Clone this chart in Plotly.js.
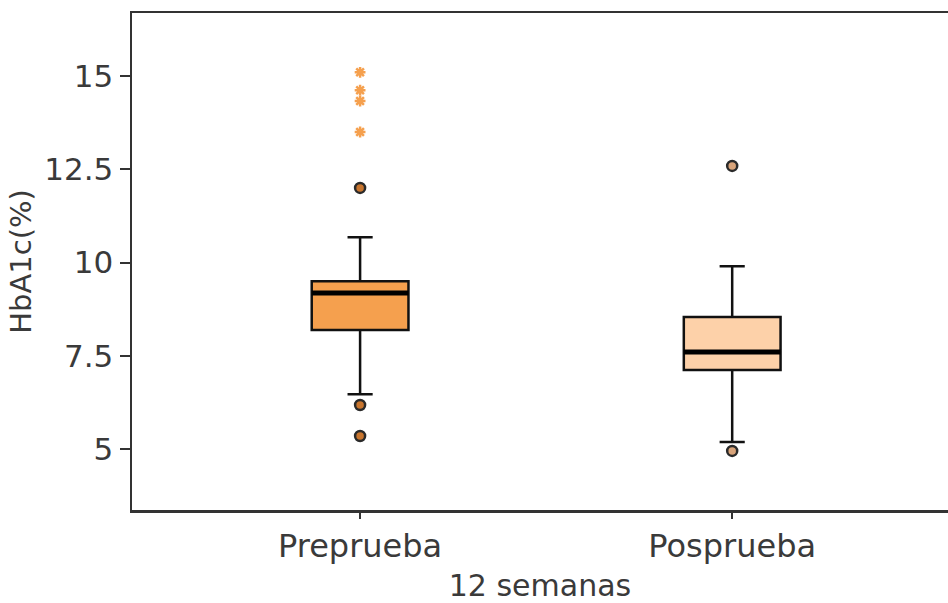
<!DOCTYPE html>
<html>
<head>
<meta charset="utf-8">
<script src="https://cdn.plot.ly/plotly-3.0.1.min.js"></script>
<style>html,body{margin:0;padding:0;background:#fff;}#chart{width:948px;height:603px;}</style>
</head>
<body>
<div id="chart"></div>
<script>
// Data
const categories = ["Preprueba", "Posprueba"];
const xPos = [0, 1];
const q1 = [8.19, 7.12];
const median = [9.18, 7.60];
const q3 = [9.50, 8.54];
const lowerWhisker = [6.47, 5.19];
const upperWhisker = [10.68, 9.90];
const outliersPre = [12.0, 6.18, 5.35];
const extremesPre = [15.1, 14.62, 14.33, 13.5];
const outliersPost = [12.59, 4.95];
const fillColors = ["#F5A04E", "#FDD1A9"];
const outlierFill = ["#C8752E", "#D9A47A"];
const yTicks = [5, 7.5, 10, 12.5, 15];
const yTickText = ["5", "7.5", "10", "12.5", "15"];

const boxWidth = 0.26;
const traces = [];
for (let i = 0; i < categories.length; i++) {
  traces.push({
    type: "box",
    x: [xPos[i]],
    q1: [q1[i]], median: [median[i]], q3: [q3[i]],
    lowerfence: [lowerWhisker[i]], upperfence: [upperWhisker[i]],
    width: boxWidth,
    whiskerwidth: 0.26,
    fillcolor: fillColors[i],
    line: {color: "#111", width: 2.5},
    boxpoints: false,
    hoverinfo: "skip",
    showlegend: false
  });
  traces.push({
    type: "scatter", mode: "lines",
    x: [xPos[i] - boxWidth / 2, xPos[i] + boxWidth / 2],
    y: [median[i], median[i]],
    line: {color: "#000", width: 5},
    showlegend: false, hoverinfo: "skip"
  });
}
traces.push({
  type: "scatter", mode: "markers",
  x: outliersPre.map(() => xPos[0]), y: outliersPre,
  marker: {symbol: "circle", size: 10, color: outlierFill[0], line: {color: "#2a2a2a", width: 2.5}},
  showlegend: false
});
traces.push({
  type: "scatter", mode: "markers",
  x: outliersPost.map(() => xPos[1]), y: outliersPost,
  marker: {symbol: "circle", size: 10, color: outlierFill[1], line: {color: "#2a2a2a", width: 2.5}},
  showlegend: false
});
traces.push({
  type: "scatter", mode: "markers",
  x: extremesPre.map(() => xPos[0]), y: extremesPre,
  marker: {symbol: "asterisk-open", size: 9, color: "#F5A04E", line: {color: "#F5A04E", width: 2.5}},
  showlegend: false
});

const fnt = {family: "DejaVu Sans", size: 30, color: "#3a3a3a"};
const layout = {
  width: 948, height: 603,
  margin: {l: 132, r: 0, t: 13, b: 93},
  paper_bgcolor: "#fff", plot_bgcolor: "#fff",
  showlegend: false,
  xaxis: {
    range: [-0.613, 1.58],
    tickvals: xPos, ticktext: categories,
    showgrid: false, zeroline: false,
    showline: true, mirror: true, linecolor: "#333", linewidth: 2.5,
    ticks: "outside", ticklen: 6, tickwidth: 2, tickcolor: "#333",
    tickfont: {family: "DejaVu Sans", size: 32, color: "#3a3a3a"},
    title: {text: "12 semanas", font: fnt, standoff: 16}
  },
  yaxis: {
    range: [3.365, 16.69],
    tickvals: yTicks, ticktext: yTickText,
    showgrid: false, zeroline: false,
    showline: true, linecolor: "#333", linewidth: 2.5,
    ticks: "outside", ticklen: 10, tickwidth: 2, tickcolor: "#333",
    tickfont: {family: "DejaVu Sans", size: 31, color: "#3a3a3a"},
    title: {text: "HbA1c(%)", font: {family: "DejaVu Sans", size: 29, color: "#3a3a3a"}, standoff: 4}
  }
};
Plotly.newPlot("chart", traces, layout, {displayModeBar: false, staticPlot: true});
</script>
</body>
</html>
